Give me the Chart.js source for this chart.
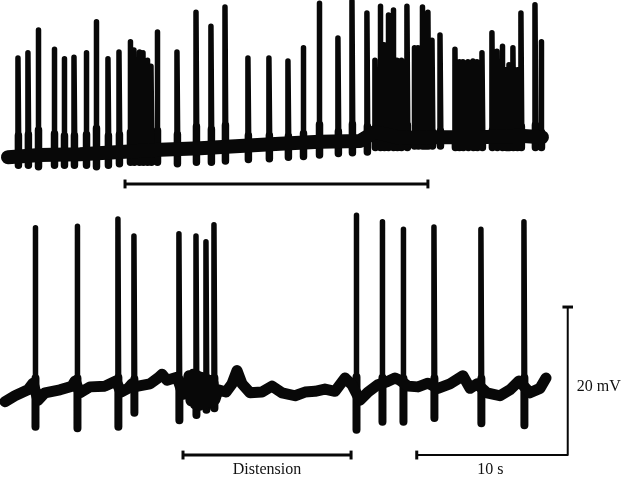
<!DOCTYPE html>
<html>
<head>
<meta charset="utf-8">
<script src="https://cdn.jsdelivr.net/npm/chart.js@4/dist/chart.umd.min.js"></script>
<style>
html,body{margin:0;padding:0;background:#fff;}
canvas{display:block;}
</style>
</head>
<body>
<canvas id="c" width="623" height="485"></canvas>
<script>
// ---- Data (time in s, potential in mV relative to each trace's resting level) ----
// Top trace: resting-level samples
const topBaseT = [0.53, 2.65, 5.30, 7.95, 10.60, 13.25, 15.89, 18.54, 21.19, 23.84, 24.83, 26.49, 29.14, 31.79, 34.44, 35.89];
const topBaseV = [-0.3, 0.0, 0.1, 0.4, 0.7, 0.9, 1.2, 1.5, 1.8, 1.9, 3.1, 2.3, 2.4, 2.4, 2.6, 2.4];
// Top trace: spikes (time, peak, after-hyperpolarisation trough)
const topSpikeT = [1.19, 1.85, 2.52, 3.58, 4.24, 4.90, 5.70, 6.36, 7.15, 7.88, 8.61, 8.87, 9.21, 9.47, 9.74, 10.00, 10.40, 11.72, 12.98, 13.97, 14.90, 16.42, 17.81, 19.07, 20.07, 21.13, 22.38, 23.31, 24.30, 24.83, 25.17, 25.43, 25.70, 26.03, 26.29, 26.56, 26.95, 27.42, 27.68, 27.95, 28.15, 28.34, 28.61, 29.14, 30.13, 30.40, 30.66, 30.99, 31.32, 31.59, 31.92, 32.58, 32.91, 33.25, 33.51, 33.71, 33.97, 34.24, 34.50, 35.43, 35.83];
const topSpikePeak = [13.1, 13.8, 16.9, 14.3, 13.0, 13.2, 13.8, 18.0, 13.0, 13.9, 15.3, 14.2, 13.9, 13.8, 12.8, 12.0, 16.6, 13.9, 19.3, 17.4, 20.0, 13.1, 13.1, 12.7, 14.5, 20.5, 15.8, 20.8, 19.2, 12.8, 20.1, 14.9, 18.9, 19.6, 12.8, 12.8, 20.1, 14.5, 14.5, 20.0, 18.2, 19.3, 15.5, 16.2, 14.3, 12.6, 12.6, 12.6, 12.7, 12.6, 13.8, 16.5, 14.0, 14.7, 11.5, 12.2, 14.5, 11.5, 19.2, 20.3, 15.3];
const topSpikeTrough = [-1.4, -1.4, -1.6, -1.4, -1.4, -1.4, -1.4, -1.6, -1.4, -1.2, -1.0, -1.0, -1.0, -1.0, -1.0, -1.0, -1.0, -1.2, -1.0, -1.0, -0.8, -0.6, -0.5, -0.3, -0.2, 0.0, 0.2, 0.3, 0.4, 1.0, 1.0, 1.0, 1.0, 1.0, 1.0, 1.0, 1.0, 1.2, 1.2, 1.2, 1.2, 1.2, 1.2, 1.2, 1.0, 1.0, 1.0, 1.0, 1.0, 1.0, 1.0, 1.0, 1.0, 1.0, 1.0, 1.0, 1.0, 1.0, 1.0, 1.0, 1.0];
// Top trace distension period
const topDistension = [8.28, 28.34];

// Bottom trace: resting-level samples
const botBaseT = [0.33, 0.99, 1.85, 2.19, 2.52, 2.98, 3.97, 4.77, 4.97, 5.30, 5.96, 6.95, 7.68, 8.01, 8.48, 8.74, 9.14, 9.93, 10.46, 10.73, 11.06, 11.72, 12.12, 12.38, 12.52, 12.65, 12.78, 12.91, 13.05, 13.18, 13.31, 13.45, 13.58, 13.71, 13.85, 13.98, 14.11, 14.24, 14.44, 14.97, 15.36, 15.70, 16.03, 16.56, 17.35, 18.01, 18.68, 19.54, 20.20, 20.86, 21.52, 22.19, 22.85, 23.31, 23.84, 24.37, 25.03, 25.63, 26.16, 26.49, 27.02, 27.68, 28.34, 29.01, 29.80, 30.66, 31.13, 31.59, 32.25, 33.11, 33.77, 34.37, 35.10, 35.76, 36.16];
const botBaseV = [-0.9, -0.1, 0.7, 1.6, -0.7, 0.3, 0.7, 1.2, 1.9, 0.3, 1.1, 1.2, 1.9, 0.4, 0.9, 1.5, 1.2, 1.5, 2.3, 2.8, 2.0, 2.4, 0.1, 0.9, 2.6, -0.8, 2.8, -1.2, 2.6, -1.4, 2.4, -1.2, 2.3, -1.0, 2.0, -1.0, 1.6, -0.6, 0.7, 0.4, 1.5, 3.3, 1.5, 0.3, 0.4, 1.2, 0.3, -0.1, 0.4, 0.5, 0.8, 0.5, 2.3, 1.4, -0.7, 0.4, 1.4, 1.8, 2.3, 2.0, 1.2, 1.1, 1.6, 0.9, 1.5, 2.6, 0.9, 1.5, 0.3, -0.1, 0.7, 1.9, 0.3, 0.9, 2.3];
// Bottom trace: spikes
const botSpikeT = [2.32, 5.10, 7.81, 8.87, 11.85, 12.98, 13.64, 14.17, 23.58, 25.30, 26.69, 28.74, 31.85, 34.70];
const botSpikePeak = [22.6, 22.8, 23.8, 21.5, 21.8, 21.5, 20.7, 23.0, 24.3, 23.4, 22.4, 22.7, 22.4, 23.4];
const botSpikeTrough = [-4.3, -4.5, -4.3, -2.4, -3.4, -2.7, -2.0, -1.8, -4.7, -3.6, -3.6, -3.1, -3.8, -4.1];
// Bottom trace distension period
const botDistension = [12.12, 23.25];

// Calibration bars
const scaleBarSeconds = 10;
const scaleBarMillivolts = 20;
const labels = { distension: 'Distension', time: '10 s', volt: '20 mV' };

// ---- Layout (drawing frame) ----
const X_MAX = 41.26, Y_MAX = 65.54;
const TOP_OFFSET = 44.6, BOT_OFFSET = 12.16;
const TOP_BAR_Y = 40.68, BOT_BAR_Y = 4.05, CAL_X0 = 27.6;
const INK = '#080808';

function baseData(T, V, off) { return T.map((t, i) => ({ x: t, y: V[i] + off })); }
function spikeData(T, P, R, off) {
  const d = [];
  T.forEach((t, i) => {
    d.push({ x: t, y: R[i] + off });
    d.push({ x: t, y: P[i] + off });
    d.push({ x: t + 0.06, y: R[i] + off });
    d.push({ x: t + 0.07, y: null });
  });
  return d;
}
// thicker foot of each spike and its after-hyperpolarisation
function footData(T, P, R, off, frac) {
  const d = [];
  T.forEach((t, i) => {
    d.push({ x: t + 0.03, y: R[i] + off });
    d.push({ x: t + 0.03, y: P[i] * frac + off });
    d.push({ x: t + 0.04, y: null });
  });
  return d;
}
function line(data, w, cap) {
  return { data, borderColor: INK, backgroundColor: INK, borderWidth: w, pointRadius: 0,
    tension: 0, fill: false, borderCapStyle: cap || 'round', borderJoinStyle: 'round', spanGaps: false };
}
function hbar(x0, x1, y) { return [{ x: x0, y }, { x: x1, y }]; }
function vtick(x, y, h) { return [{ x, y: y - h }, { x, y: y + h }]; }

const datasets = [
  line(baseData(topBaseT, topBaseV, TOP_OFFSET), 14),
  line(spikeData(topSpikeT, topSpikePeak, topSpikeTrough, TOP_OFFSET), 5.5),
  line(footData(topSpikeT, topSpikePeak, topSpikeTrough, TOP_OFFSET, 0.2), 7.5),
  line(baseData(botBaseT, botBaseV, BOT_OFFSET), 11),
  line(spikeData(botSpikeT, botSpikePeak, botSpikeTrough, BOT_OFFSET), 5.5),
  line(footData(botSpikeT, botSpikePeak, botSpikeTrough, BOT_OFFSET, 0.1), 8),
  // top distension bar
  line(hbar(topDistension[0], topDistension[1], TOP_BAR_Y), 3, 'butt'),
  line(vtick(topDistension[0], TOP_BAR_Y, 0.6), 3, 'butt'),
  line(vtick(topDistension[1], TOP_BAR_Y, 0.6), 3, 'butt'),
  // bottom distension bar
  line(hbar(botDistension[0], botDistension[1], BOT_BAR_Y), 3, 'butt'),
  line(vtick(botDistension[0], BOT_BAR_Y, 0.6), 3, 'butt'),
  line(vtick(botDistension[1], BOT_BAR_Y, 0.6), 3, 'butt'),
  // calibration: 10 s horizontal + 20 mV vertical
  line([{ x: CAL_X0, y: BOT_BAR_Y }, { x: CAL_X0 + scaleBarSeconds, y: BOT_BAR_Y }, { x: CAL_X0 + scaleBarSeconds, y: BOT_BAR_Y + scaleBarMillivolts }], 2, 'butt'),
  line(vtick(CAL_X0, BOT_BAR_Y, 0.6), 3, 'butt'),
  line(hbar(CAL_X0 + scaleBarSeconds - 0.35, CAL_X0 + scaleBarSeconds + 0.35, BOT_BAR_Y + scaleBarMillivolts), 3, 'butt')
];

const textPlugin = {
  id: 'labels',
  afterDraw(chart) {
    const { ctx, scales: { x, y } } = chart;
    ctx.save();
    ctx.fillStyle = '#111';
    ctx.font = '16px "Liberation Serif", "DejaVu Serif", serif';
    ctx.textBaseline = 'middle';
    ctx.textAlign = 'center';
    const ly = y.getPixelForValue(BOT_BAR_Y) + 15;
    ctx.fillText(labels.distension, x.getPixelForValue((botDistension[0] + botDistension[1]) / 2), ly);
    ctx.fillText(labels.time, x.getPixelForValue(CAL_X0 + scaleBarSeconds / 2) - 2, ly);
    ctx.textAlign = 'left';
    ctx.fillText(labels.volt, x.getPixelForValue(CAL_X0 + scaleBarSeconds) + 9,
      y.getPixelForValue(BOT_BAR_Y + scaleBarMillivolts / 2) + 6);
    ctx.restore();
  }
};

new Chart(document.getElementById('c'), {
  type: 'line',
  data: { datasets },
  options: {
    responsive: false,
    animation: false,
    layout: { padding: 0 },
    plugins: { legend: { display: false }, tooltip: { enabled: false }, title: { display: false } },
    scales: {
      x: { type: 'linear', display: false, min: 0, max: X_MAX },
      y: { type: 'linear', display: false, min: 0, max: Y_MAX }
    }
  },
  plugins: [textPlugin]
});
</script>
</body>
</html>
